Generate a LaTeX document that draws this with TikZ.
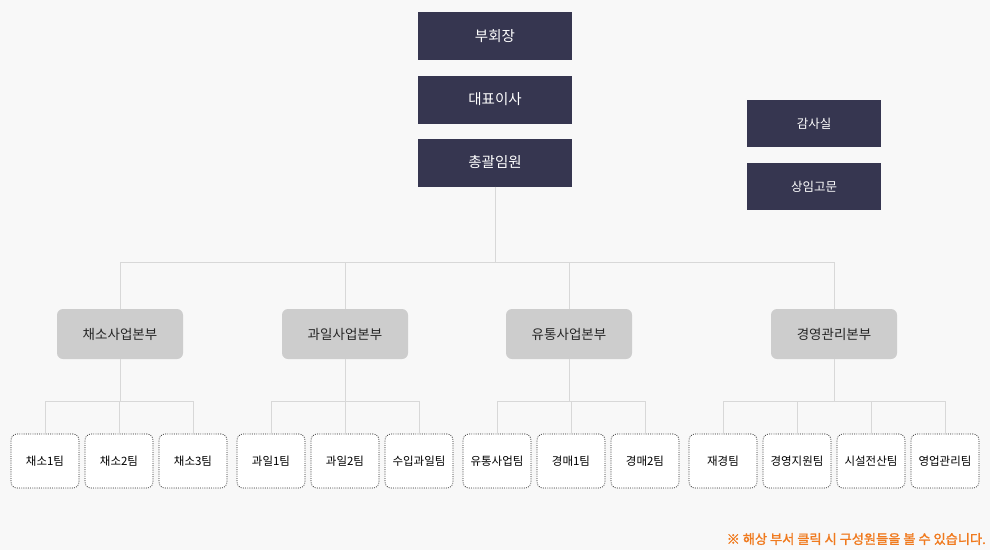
\documentclass[tikz,border=0pt]{standalone}
\usepackage{fontspec}
\setmainfont{Noto Sans CJK KR}
\newfontfamily\krb[FakeBold=1.5]{Noto Sans CJK KR}
\definecolor{navy}{HTML}{363650}
\definecolor{divg}{HTML}{CDCDCD}
\definecolor{bg}{HTML}{F8F8F8}
\definecolor{ln}{HTML}{D8D8D8}
\definecolor{org}{HTML}{F07A1E}
\begin{document}
\begin{tikzpicture}[x=1pt,y=-1pt,
  topbox/.style={fill=navy,text=white,minimum width=154pt,minimum height=48pt,inner sep=0pt,font=\fontsize{14.5}{16}\selectfont},
  sidebox/.style={fill=navy,text=white,minimum width=134pt,minimum height=47pt,inner sep=0pt,font=\fontsize{12.5}{14}\selectfont},
  divbox/.style={fill=divg,text=black!85,rounded corners=6pt,minimum width=126pt,minimum height=50pt,inner sep=0pt,font=\fontsize{13.5}{15}\selectfont},
  teambox/.style={draw=black!85,line width=0.7pt,dash pattern=on 0.9pt off 1.3pt,fill=white,rounded corners=6pt,minimum width=68pt,minimum height=54pt,inner sep=0pt,font=\fontsize{11.5}{13}\selectfont},
  conn/.style={draw=ln,line width=0.8pt}]
\fill[bg] (0,0) rectangle (990,550);
\useasboundingbox (0,0) rectangle (990,550);
\node[topbox] (t1) at (495,36) {부회장};
\node[topbox] (t2) at (495,99.5) {대표이사};
\node[topbox] (t3) at (495,162.5) {총괄임원};
\node[sidebox] (s1) at (814,123.5) {감사실};
\node[sidebox] (s2) at (814,186.5) {상임고문};
\coordinate (hub) at (495,262);
\draw[conn] (t3.south) -- (hub);
\foreach \n/\x/\t in {d1/120/채소사업본부,d2/345/과일사업본부,d3/569/유통사업본부,d4/834/경영관리본부}{
  \node[divbox] (\n) at (\x,334) {\t};
  \draw[conn] (\n.north) -- (\x,262);
}
\draw[conn] (120,262) -- (834,262);
\foreach \n/\x/\t in {a1/45/채소1팀,a2/119/채소2팀,a3/193/채소3팀,b1/271/과일1팀,b2/345/과일2팀,b3/419/수입과일팀,c1/497/유통사업팀,c2/571/경매1팀,c3/645/경매2팀,e1/723/재경팀,e2/797/경영지원팀,e3/871/시설전산팀,e4/945/영업관리팀}{
  \node[teambox] (\n) at (\x,461) {\t};
  \draw[conn] (\n.north) -- (\x,401);
}
\foreach \d/\l/\r in {d1/45/193,d2/271/419,d3/497/645,d4/723/945}{
  \draw[conn] (\d.south) -- (\d.south |- 0,401);
  \draw[conn] (\l,401) -- (\r,401);
}
\node[anchor=east,text=org,font=\krb\fontsize{13.2}{15}\selectfont,inner sep=0pt] (note) at (986,539) {※ 해상 부서 클릭 시 구성원들을 볼 수 있습니다.};
\end{tikzpicture}
\end{document}
